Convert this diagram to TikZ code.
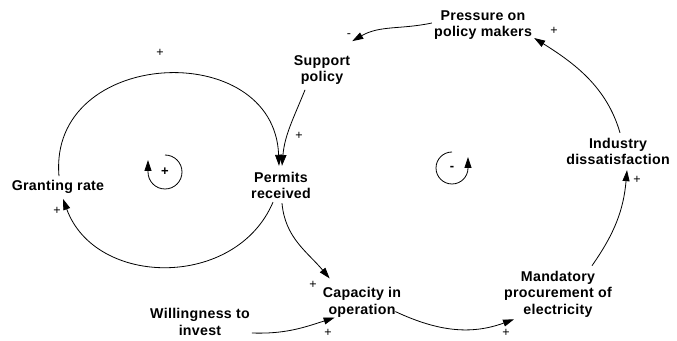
\documentclass[tikz,border=0pt]{standalone}
\usepackage{fontspec}
\setmainfont{Liberation Sans}
\usetikzlibrary{arrows.meta}
\begin{document}
\begin{tikzpicture}[x=1pt,y=1pt,
  var/.style={font=\fontsize{14.2}{16.5}\selectfont\bfseries\addfontfeatures{LetterSpace=2}, align=center, inner sep=2pt},
  link/.style={-{Triangle[length=11pt,width=7pt]}, line width=0.8pt},
  pol/.style={font=\fontsize{12.5}{13}\selectfont, inner sep=0pt},
  loopsign/.style={font=\fontsize{13}{14}\selectfont\bfseries, inner sep=0pt},
]
\useasboundingbox (0,0) rectangle (677,340);
% variables
\node[var] (press) at (483,315) {Pressure on\\policy makers};
\node[var] (supp)  at (322,270) {Support\\policy};
\node[var] (perm)  at (281,154.5) {Permits\\received};
\node[var] (grant) at (58,153) {Granting rate};
\node[var] (indus) at (618,188.5) {Industry\\dissatisfaction};
\node[var] (mand)  at (558,46) {Mandatory\\procurement of\\electricity};
\node[var] (cap)   at (362,37.5) {Capacity in\\operation};
\node[var] (will)  at (200,18) {Willingness to\\invest};
% connectors
\draw[link] ([xshift=1pt,yshift=2pt]grant.north) to[out=95,in=92,looseness=1.5] ([xshift=-2pt,yshift=4pt]perm.north);
\draw[link] ([xshift=-8pt,yshift=-1pt]perm.south) to[out=247,in=290,looseness=1.15] ([xshift=5pt,yshift=-3pt]grant.south);
\draw[link] ([xshift=-17pt,yshift=-3pt]supp.south) to[out=248,in=85] ([xshift=1pt,yshift=4pt]perm.north);
\draw[link] ([yshift=2pt]press.west) to[out=192,in=30] ([yshift=12pt]supp.north east);
\draw[link] ([xshift=2pt,yshift=3pt]indus.north) to[out=106,in=-32,looseness=0.95] ([yshift=-13pt]press.east);
\draw[link] ([xshift=34pt,yshift=3pt]mand.north) to[out=55,in=265] ([xshift=9pt,yshift=-3pt]indus.south);
\draw[link] ([xshift=-8pt,yshift=8pt]cap.south east) to[out=-25,in=200] ([xshift=12pt]mand.south west);
\draw[link] ([yshift=-11pt]will.east) to[out=-2,in=198] ([xshift=14pt,yshift=2pt]cap.south west);
\draw[link] ([xshift=1pt,yshift=-2pt]perm.south) to[out=-85,in=130] ([xshift=9pt,yshift=7pt]cap.north west);
% polarities
\node[pol] (p1) at (160,287) {+};
\node[pol] (p2) at (299,204) {+};
\node[pol] (p3) at (349,304) {-};
\node[pol] (p4) at (554,309) {+};
\node[pol] (p5) at (637,160) {+};
\node[pol] (p6) at (57,129) {+};
\node[pol] (p7) at (313,55) {+};
\node[pol] (p8) at (328,7) {+};
\node[pol] (p9) at (506,7) {+};
% loop markers
\node[loopsign] (rsign) at (165,168) {+};
\draw[link] ([yshift=17pt]rsign.center) arc[start angle=90, end angle=-180, radius=17] -- ++(0,12);
\node[loopsign] (bsign) at (452,172) {-};
\draw[link] ([yshift=16pt]bsign.center) arc[start angle=90, end angle=360, radius=16] -- ++(0,11);
\end{tikzpicture}
\end{document}
